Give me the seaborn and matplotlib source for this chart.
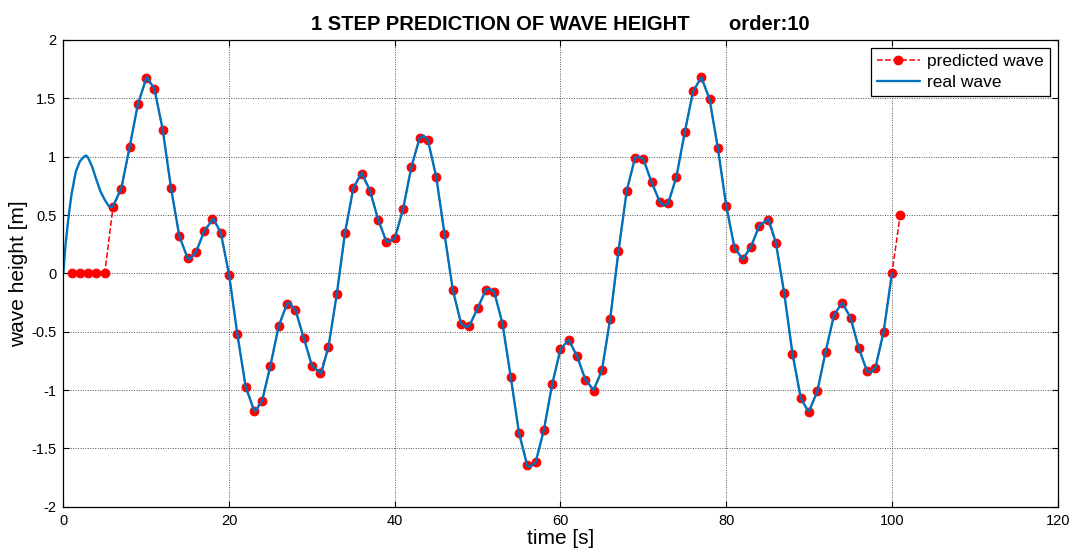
import numpy as np
import pandas as pd
import seaborn as sns
import matplotlib
matplotlib.use("Agg")
import matplotlib.pyplot as plt

# one-step-ahead predictions (t = 1 .. 101 s)
pred_time = list(range(1, 102))
pred_height = [
    0.00, 0.00, 0.00, 0.00, 0.00, 0.57, 0.72, 1.08, 1.45, 1.67,
    1.58, 1.23, 0.73, 0.32, 0.13, 0.18, 0.36, 0.47, 0.35, -0.01,
    -0.52, -0.97, -1.18, -1.09, -0.79, -0.45, -0.26, -0.31, -0.55, -0.79,
    -0.85, -0.63, -0.18, 0.35, 0.73, 0.85, 0.71, 0.46, 0.27, 0.30,
    0.55, 0.91, 1.16, 1.14, 0.83, 0.34, -0.14, -0.43, -0.45, -0.30,
    -0.14, -0.16, -0.43, -0.89, -1.37, -1.64, -1.62, -1.34, -0.95, -0.65,
    -0.57, -0.71, -0.91, -1.01, -0.83, -0.39, 0.19, 0.71, 0.99, 0.98,
    0.78, 0.61, 0.60, 0.83, 1.21, 1.56, 1.68, 1.49, 1.07, 0.58,
    0.22, 0.12, 0.23, 0.41, 0.46, 0.26, -0.17, -0.69, -1.07, -1.19,
    -1.01, -0.67, -0.36, -0.25, -0.38, -0.64, -0.84, -0.81, -0.50, 0.00,
    0.50,
]

# measured wave elevation
real_time = [
    0, 0.25, 0.5, 0.75, 1, 1.5, 2, 2.5, 2.75, 3, 3.5, 4, 4.5, 5, 5.5, 5.8, 6,
    7, 8, 9, 10, 10.1, 11, 12, 13, 14, 15,
    15.2, 16, 17, 18, 18.1, 19, 20, 21, 22, 23, 23.2, 24, 25, 26, 27, 27.2, 28,
    29, 30, 31, 31.1, 32, 33, 34, 35, 36, 37, 38, 39, 39.3, 40, 41, 42, 43,
    43.5, 44, 45, 46, 47, 48, 48.6, 49, 50, 51, 51.4, 52, 53, 54, 55, 56, 56.3,
    57, 58, 59, 60, 61, 62, 63, 64, 65, 66, 67, 68, 69, 69.4, 70, 71, 72, 72.5,
    73, 74, 75, 76, 77, 78, 79, 80, 81, 82, 83, 84, 85, 85.1, 86, 87, 88, 89,
    89.8, 90, 91, 92, 93, 94, 95, 96, 97, 97.4, 98, 99, 100,
]
real_height = [
    0.00, 0.23, 0.40, 0.55, 0.68, 0.87, 0.96, 1.00, 1.01, 0.99, 0.91, 0.80,
    0.70, 0.63, 0.575, 0.565, 0.575, 0.73, 1.08,
    1.45, 1.67, 1.68, 1.58, 1.23, 0.73, 0.32, 0.13, 0.12, 0.18, 0.36, 0.46,
    0.47, 0.35, -0.01, -0.52, -0.97, -1.17, -1.18, -1.09, -0.79, -0.45, -0.26,
    -0.25, -0.31, -0.55, -0.79, -0.85, -0.86, -0.63, -0.18, 0.35, 0.73, 0.865,
    0.71, 0.46, 0.27, 0.27, 0.30, 0.55, 0.91, 1.16, 1.18, 1.14, 0.83, 0.34,
    -0.14, -0.43, -0.46, -0.45, -0.30, -0.14, -0.13, -0.16, -0.43, -0.89,
    -1.37, -1.65, -1.66, -1.62, -1.34, -0.95, -0.65, -0.57, -0.71, -0.91,
    -1.00, -0.83, -0.39, 0.19, 0.71, 0.99, 1.00, 0.98, 0.78, 0.61, 0.58,
    0.60, 0.83, 1.21, 1.56, 1.68, 1.49, 1.07, 0.58, 0.22, 0.12, 0.23, 0.41,
    0.46, 0.47, 0.26, -0.17, -0.69, -1.07, -1.17, -1.18, -1.01, -0.67, -0.36,
    -0.25, -0.38, -0.64, -0.84, -0.85, -0.81, -0.50, 0.00,
]

x_ticks = [0, 20, 40, 60, 80, 100, 120]
y_ticks = [-2, -1.5, -1, -0.5, 0, 0.5, 1, 1.5, 2]
y_tick_labels = ["-2", "-1.5", "-1", "-0.5", "0", "0.5", "1", "1.5", "2"]

sns.set_style("white")
plt.rcParams["font.family"] = ["Liberation Sans", "DejaVu Sans"]
plt.rcParams["text.color"] = "black"
plt.rcParams["axes.labelcolor"] = "black"

pred_df = pd.DataFrame({"time": pred_time, "height": pred_height})
real_df = pd.DataFrame({"time": real_time, "height": real_height})

fig = plt.figure(figsize=(10.73, 5.53), dpi=100)
ax = fig.add_axes([0.059, 0.0837, 0.9267, 0.844])

sns.lineplot(data=pred_df, x="time", y="height", ax=ax, color="#ff0000",
             linestyle="--", linewidth=1.1, marker="o", markersize=6.3,
             markeredgecolor="#ff0000", label="predicted wave", sort=False)
sns.lineplot(data=real_df, x="time", y="height", ax=ax, color="#0072bd",
             linewidth=1.7, label="real wave", sort=False)

ax.set_xlim(0, 120)
ax.set_ylim(-2, 2)
ax.set_xticks(x_ticks)
ax.set_yticks(y_ticks)
ax.set_yticklabels(y_tick_labels)
ax.grid(True, linestyle=(0, (1, 1.5)), color="#555555", linewidth=0.7)
ax.set_axisbelow(True)

ax.tick_params(direction="in", length=4, width=0.8, top=True, right=True,
               bottom=True, left=True, labelsize=10.5, colors="black", pad=5)
for side in ax.spines.values():
    side.set_visible(True)
    side.set_color("black")
    side.set_linewidth(0.9)

ax.set_xlabel("time [s]", fontsize=15, labelpad=1)
ax.set_ylabel("wave height [m]", fontsize=15, labelpad=2)
ax.set_title("1 STEP PREDICTION OF WAVE HEIGHT       order:10",
             fontsize=14.5, fontweight="bold", color="black", pad=7)

leg = ax.legend(loc="upper right", fontsize=12.5, frameon=True, fancybox=False,
                edgecolor="black", framealpha=1, borderaxespad=0.45,
                handlelength=2.5, borderpad=0.35, labelspacing=0.35,
                handletextpad=0.4)
leg.get_frame().set_linewidth(0.9)

fig.savefig("out.png", dpi=100)
